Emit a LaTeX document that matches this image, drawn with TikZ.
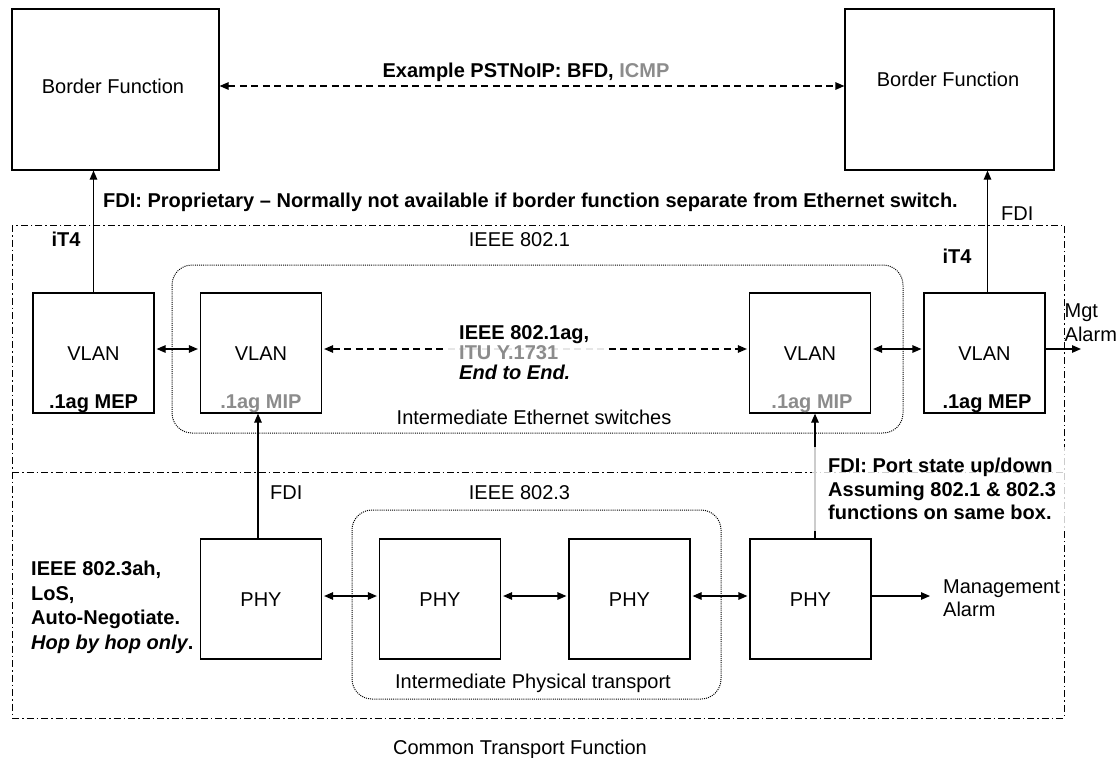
\documentclass[tikz,border=0pt]{standalone}
\usepackage{fontspec}
\setmainfont{Liberation Sans}
\usetikzlibrary{arrows.meta}
\definecolor{txtgray}{gray}{0.55}
\begin{document}
\begin{tikzpicture}[x=1pt,y=-1pt,
  txt/.style={font=\fontsize{20}{24}\selectfont, inner sep=0pt, text height=14.3pt, text depth=0pt},
  btxt/.style={txt, font=\fontsize{20}{24}\selectfont\bfseries},
  mtxt/.style={inner sep=0pt, align=left, anchor=north west},
  box/.style={draw, line width=1.2pt, inner sep=0pt, minimum width=121pt, minimum height=120pt, txt},
  tip/.tip={Triangle[length=9pt,width=7.5pt]},
  arr/.style={line width=1.2pt, -tip},
  darr/.style={line width=1.2pt, tip-tip, shorten <=2pt, shorten >=2pt},
  ddash/.style={line width=1.2pt, tip-tip, dash pattern=on 7pt off 4.5pt, shorten <=2pt, shorten >=2pt},
  dashdotline/.style={line width=0.9pt, dash pattern=on 7pt off 3pt on 1.5pt off 3pt},
  dottedline/.style={line width=1pt, dash pattern=on 1pt off 1.1pt, rounded corners=20pt}
]
\useasboundingbox (0,0) rectangle (1117,758);

% frames
\draw[dashdotline] (12,225) rectangle (1064,718);
\draw[dashdotline] (12,472) -- (1064,472);
\draw[dottedline] (172,265) rectangle (903,433);
\draw[dottedline] (352,510) rectangle (721,699);

% border functions
\node[box, minimum width=207pt, minimum height=161pt] (bfl) at (115.5,89.5) {};
\node[txt] (bfltxt) at (113,86) {Border Function};
\node[box, minimum width=209pt, minimum height=161pt] (bfr) at (949.5,89.5) {};
\node[txt] (bfrtxt) at (948,79) {Border Function};
\draw[line width=1.2pt, tip-tip, dash pattern=on 7pt off 4.5pt] ([yshift=3.5pt]bfl.east) -- ([yshift=3.5pt]bfr.west);
\node[btxt] (ex) at (526,70) {Example PSTNoIP: BFD, \textcolor{txtgray}{ICMP}};
\node[btxt, anchor=west] (fdip) at (103,200) {FDI: Proprietary – Normally not available if border function separate from Ethernet switch.};

% labels
\node[btxt] (it4l) at (66,239) {iT4};
\node[btxt] (it4r) at (957,256) {iT4};
\node[txt] (ieee1) at (519.5,239) {IEEE 802.1};
\node[txt, anchor=west] (fdir) at (1001,213) {FDI};
\node[txt] (ies) at (534,417) {Intermediate Ethernet switches};
\node[txt] (ieee3) at (519.5,492) {IEEE 802.3};
\node[txt, anchor=west] (fdil) at (270,492) {FDI};
\node[txt] (ipt) at (533,681) {Intermediate Physical transport};
\node[txt] (ctf) at (520,747) {Common Transport Function};

% VLAN boxes
\node[box] (v1) at (93.5,353) {VLAN};
\node[btxt] (v1l) at (93.5,401) {.1ag MEP};
\node[box] (v2) at (261,353) {VLAN};
\node[btxt, text=txtgray] (v2l) at (261,401) {.1ag MIP};
\node[box] (v3) at (810,353) {VLAN};
\node[btxt, text=txtgray] (v3l) at (812,401) {.1ag MIP};
\node[box] (v4) at (984.5,353) {VLAN};
\node[btxt] (v4l) at (987,401) {.1ag MEP};

% PHY boxes
\node[box] (p1) at (261,599) {PHY};
\node[box] (p2) at (440,599) {PHY};
\node[box] (p3) at (629.5,599) {PHY};
\node[box] (p4) at (810.5,599) {PHY};

% connectors upper
\draw[arr] (v1.north) -- (v1.north |- bfl.south);
\draw[arr] ([xshift=3pt]v4.north) -- ([xshift=3pt]v4.north |- bfr.south);
\draw[darr] ([yshift=4pt]v1.east) -- ([yshift=4pt]v2.west);
\draw[ddash] ([yshift=4pt]v2.east) -- ([yshift=4pt]v3.west);
\node[mtxt, font=\fontsize{20}{20}\selectfont\bfseries, fill=white, fill opacity=0.9, text opacity=1, inner xsep=15pt, inner ysep=2pt] (mid) at (444,323) {IEEE 802.1ag,\\\textcolor{txtgray}{ITU Y.1731}\\\textit{End to End.}};
\draw[darr] ([yshift=4pt]v3.east) -- ([yshift=4pt]v4.west);
\coordinate (mgtend) at (1081,349);
\draw[arr] ([yshift=4pt]v4.east) -- (mgtend);
\node[mtxt, font=\fontsize{20}{24}\selectfont] (mgt) at (1064.5,304) {Mgt\\Alarm};

% connectors lower
\draw[arr] ([xshift=-3pt]p1.north) -- ([xshift=-3pt]p1.north |- v2.south);
\draw[arr] ([xshift=4.5pt]p4.north) -- ([xshift=4.5pt]p4.north |- v3.south);
\draw[darr] ([yshift=3pt]p1.east) -- ([yshift=3pt]p2.west);
\draw[darr] ([yshift=3pt]p2.east) -- ([yshift=3pt]p3.west);
\draw[darr] ([yshift=3pt]p3.east) -- ([yshift=3pt]p4.west);
\coordinate (mgmtend) at (930,596);
\draw[arr] ([yshift=3pt]p4.east) -- (mgmtend);
\node[mtxt, font=\fontsize{20}{23}\selectfont] (mgmt) at (943,580) {Management\\Alarm};

\node[mtxt, font=\fontsize{20}{23.5}\selectfont\bfseries, fill=white, fill opacity=0.8, text opacity=1, inner xsep=16pt, inner ysep=11pt] (fdiport) at (812,447) {FDI: Port state up/down\\Assuming 802.1 \& 802.3\\functions on same box.};

\node[mtxt, font=\fontsize{20}{24.5}\selectfont\bfseries] (lt) at (31,561) {IEEE 802.3ah,\\LoS,\\Auto-Negotiate.\\\textit{Hop by hop only}.};
\end{tikzpicture}
\end{document}
